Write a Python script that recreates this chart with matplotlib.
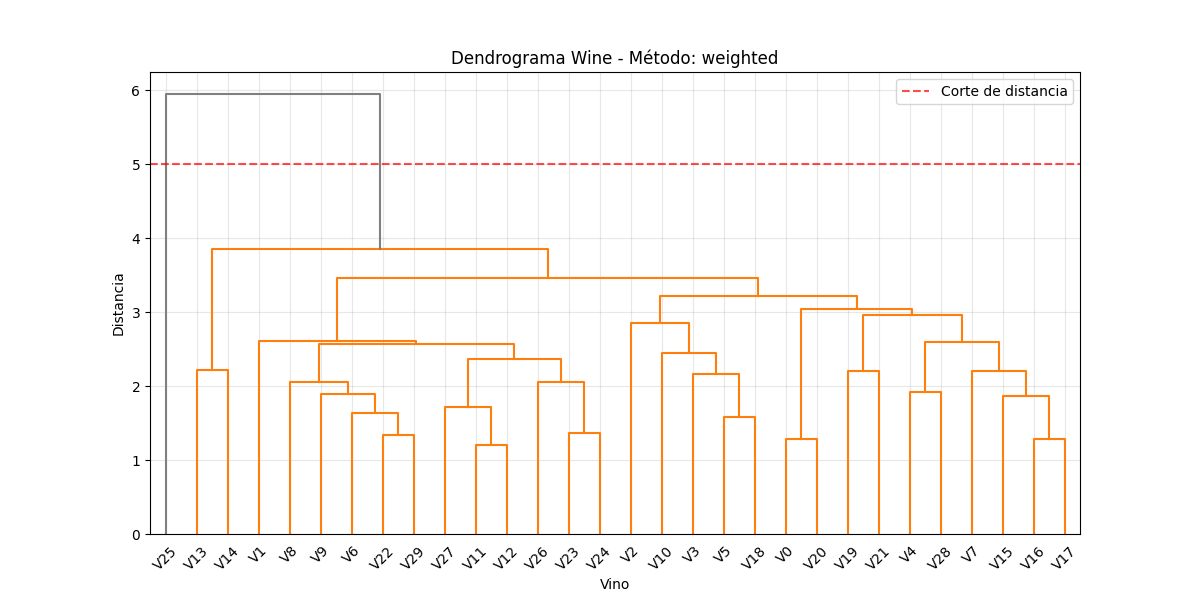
import matplotlib
matplotlib.use("Agg")
import matplotlib.pyplot as plt

# Merge steps of the weighted linkage.
# A child is either a leaf label or the index of an earlier merge.
merge_left = ["V22", "V6", "V9", "V8", "V11", "V27", "V23", "V26", 5, 3, "V1",
              "V13", "V5", "V3", "V10", "V2", "V0", "V19", "V16", "V15", "V7",
              "V4", 21, 17, 16, 15, 10, 11, "V25"]
merge_right = ["V29", 0, 1, 2, "V12", 4, "V24", 6, 7, 8, 9,
               "V14", "V18", 12, 13, 14, "V20", "V21", "V17", 18, 19,
               "V28", 20, 22, 23, 24, 25, 26, 27]
merge_height = [1.34, 1.64, 1.89, 2.05, 1.20, 1.72, 1.36, 2.05, 2.36, 2.57, 2.61,
                2.22, 1.58, 2.17, 2.45, 2.86, 1.28, 2.20, 1.28, 1.86, 2.20,
                1.92, 2.59, 2.96, 3.04, 3.22, 3.46, 3.85, 5.95]

cut_distance = 5.0
color_threshold = 0.7 * max(merge_height)


def build(ax):
    leaves = []
    pos = {}

    def place(node):
        # returns (x, y) of the node's top
        if isinstance(node, str):
            x = 5 + 10 * len(leaves)
            leaves.append(node)
            return x, 0.0
        if node in pos:
            return pos[node]
        xl, yl = place(merge_left[node])
        xr, yr = place(merge_right[node])
        h = merge_height[node]
        color = "gray" if h > color_threshold else "C1"
        ax.plot([xl, xl, xr, xr], [yl, h, h, yr], color=color, linewidth=1.5)
        pos[node] = ((xl + xr) / 2, h)
        return pos[node]

    place(len(merge_height) - 1)
    return leaves


fig, ax = plt.subplots(figsize=(12, 6), dpi=100)
leaves = build(ax)

ax.set_xlim(0, 10 * len(leaves))
ax.set_ylim(0, max(merge_height) * 1.05)
ax.set_xticks([5 + 10 * i for i in range(len(leaves))])
ax.set_xticklabels(leaves, rotation=45, size=10)
for line in ax.get_xticklines():
    line.set_visible(False)

ax.axhline(y=cut_distance, color="r", linestyle="--", alpha=0.7, label="Corte de distancia")
ax.set_title("Dendrograma Wine - Método: weighted")
ax.set_xlabel("Vino")
ax.set_ylabel("Distancia")
ax.legend()
ax.grid(True, alpha=0.3)
ax.set_axisbelow(True)

fig.savefig("out.png")
